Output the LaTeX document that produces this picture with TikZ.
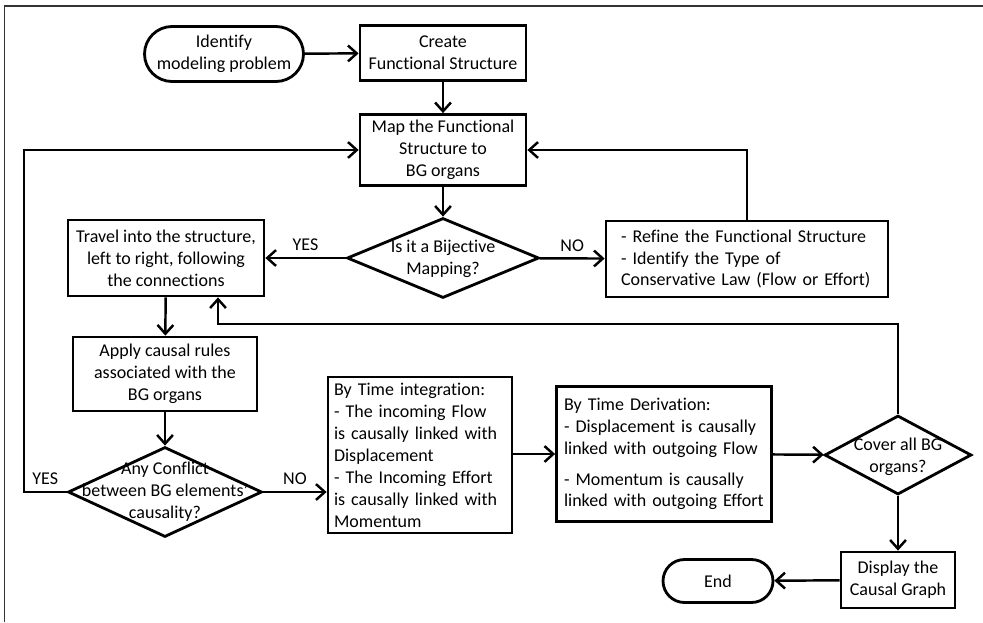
\documentclass[tikz,border=0pt]{standalone}
\usepackage{fontspec}
\setmainfont{Carlito}[Ligatures=NoCommon]
\usetikzlibrary{arrows.meta}
\usetikzlibrary{shapes.geometric}
\usetikzlibrary{shapes.misc}
\hyphenpenalty=10000

\begin{document}
\begin{tikzpicture}[x=0.02cm, y=-0.02cm,
        font=\fontsize{10.25}{12.5}\selectfont,
        box/.style={rectangle, draw=black, line width=1.6pt, align=center, inner sep=0pt},
        term/.style={rounded rectangle, draw=black, line width=1.6pt, align=center, inner sep=0pt},
        dia/.style={diamond, draw=black, line width=1.6pt, inner sep=0pt},
        note/.style={rectangle, draw=black, line width=1.6pt, align=left, inner ysep=0pt},
        arr/.style={line width=1.4pt, -{Straight Barb[length=5pt, width=9pt]}}]
            \useasboundingbox (0,0) rectangle (983,622);
            \draw[line width=1.1pt, black!80] (4.5,622) -- (4.5,6) -- (983,6);

            % top row
            \node[term, minimum width=3.18cm, minimum height=1.1cm] (start) at (224,54) {Identify\\modeling problem};
            \node[box, minimum width=3.32cm, minimum height=1.1cm] (create) at (443,53) {Create\\Functional Structure};
            \node[box, minimum width=3.32cm, minimum height=1.42cm] (map) at (443,150) {Map the Functional\\Structure to\\BG organs};

            % bijective test
            \node[dia, minimum width=3.84cm, minimum height=1.6cm] (bij) at (443,258) {};
            \node[align=center] (bijtext) at (443,259) {Is it a Bijective\\Mapping?};
            \node[box, minimum width=3.92cm, minimum height=1.52cm] (travel) at (166,258) {Travel into the structure,\\left to right, following\\the connections};
            \node[note, text width=5.04cm, inner xsep=0.3cm, minimum height=1.52cm] (refine) at (747,259) {- Refine the Functional Structure\\- Identify the Type of\\Conservative Law (Flow or Effort)};

            % causality
            \node[box, minimum width=3.68cm, minimum height=1.48cm] (apply) at (165,374) {Apply causal rules\\associated with the\\BG organs};
            \node[dia, minimum width=3.88cm, minimum height=1.8cm] (conf) at (165,492) {};
            \node[align=center] (conftext) at (165,492) {Any Conflict\\between BG elements'\\causality?};
            \node[note, text width=3.44cm, inner xsep=0.12cm, minimum height=3.12cm] (integ) at (420,455) {By Time integration:\\- The incoming Flow\\is causally linked with\\Displacement\\- The Incoming Effort\\is causally linked with\\Momentum};
            \node[note, text width=4.0cm, inner xsep=0.15cm, minimum height=2.7cm] (deriv) at (664,454) {By Time Derivation:\\- Displacement is causally\\linked with outgoing Flow\\[5pt]- Momentum is causally\\linked with outgoing Effort};
            \node[dia, minimum width=2.94cm, minimum height=1.58cm] (cover) at (898,455) {};
            \node[align=center] (covertext) at (898,457) {Cover all BG\\organs?};
            \node[box, minimum width=2.28cm, minimum height=1.12cm] (display) at (898,580) {Display the\\Causal Graph};
            \node[term, minimum width=2.2cm, minimum height=0.86cm] (end) at (718,581) {End};

            % connectors
            \draw[arr] (start) -- (create);
            \draw[arr] (create) -- (map);
            \draw[arr] (map) -- (bij);
            \draw[arr] (bij) -- node[above] (yes1) {YES} (travel);
            \draw[arr] (bij) -- node[above] (no1) {NO} (refine);
            \draw[arr] (refine.north) |- (map.east);
            \draw[arr] (travel) -- (apply);
            \draw[arr] (apply) -- (conf);
            \coordinate (yesturn) at (24,492);
            \draw[arr] (conf.west) -- node[above] (yes2) {YES} (yesturn) |- (map.west);
            \draw[arr] (conf.east) -- node[above] (no2) {NO} (conf.east -| integ.west);
            \draw[arr] (integ.east |- deriv.west) -- (deriv.west);
            \draw[arr] (deriv) -- (cover);
            \coordinate (back) at (218,324);
            \draw[arr] (cover.north) |- (back) -- (back |- travel.south);
            \draw[arr] (cover) -- (display);
            \draw[arr] (display) -- (end);
        \end{tikzpicture}
\end{document}
